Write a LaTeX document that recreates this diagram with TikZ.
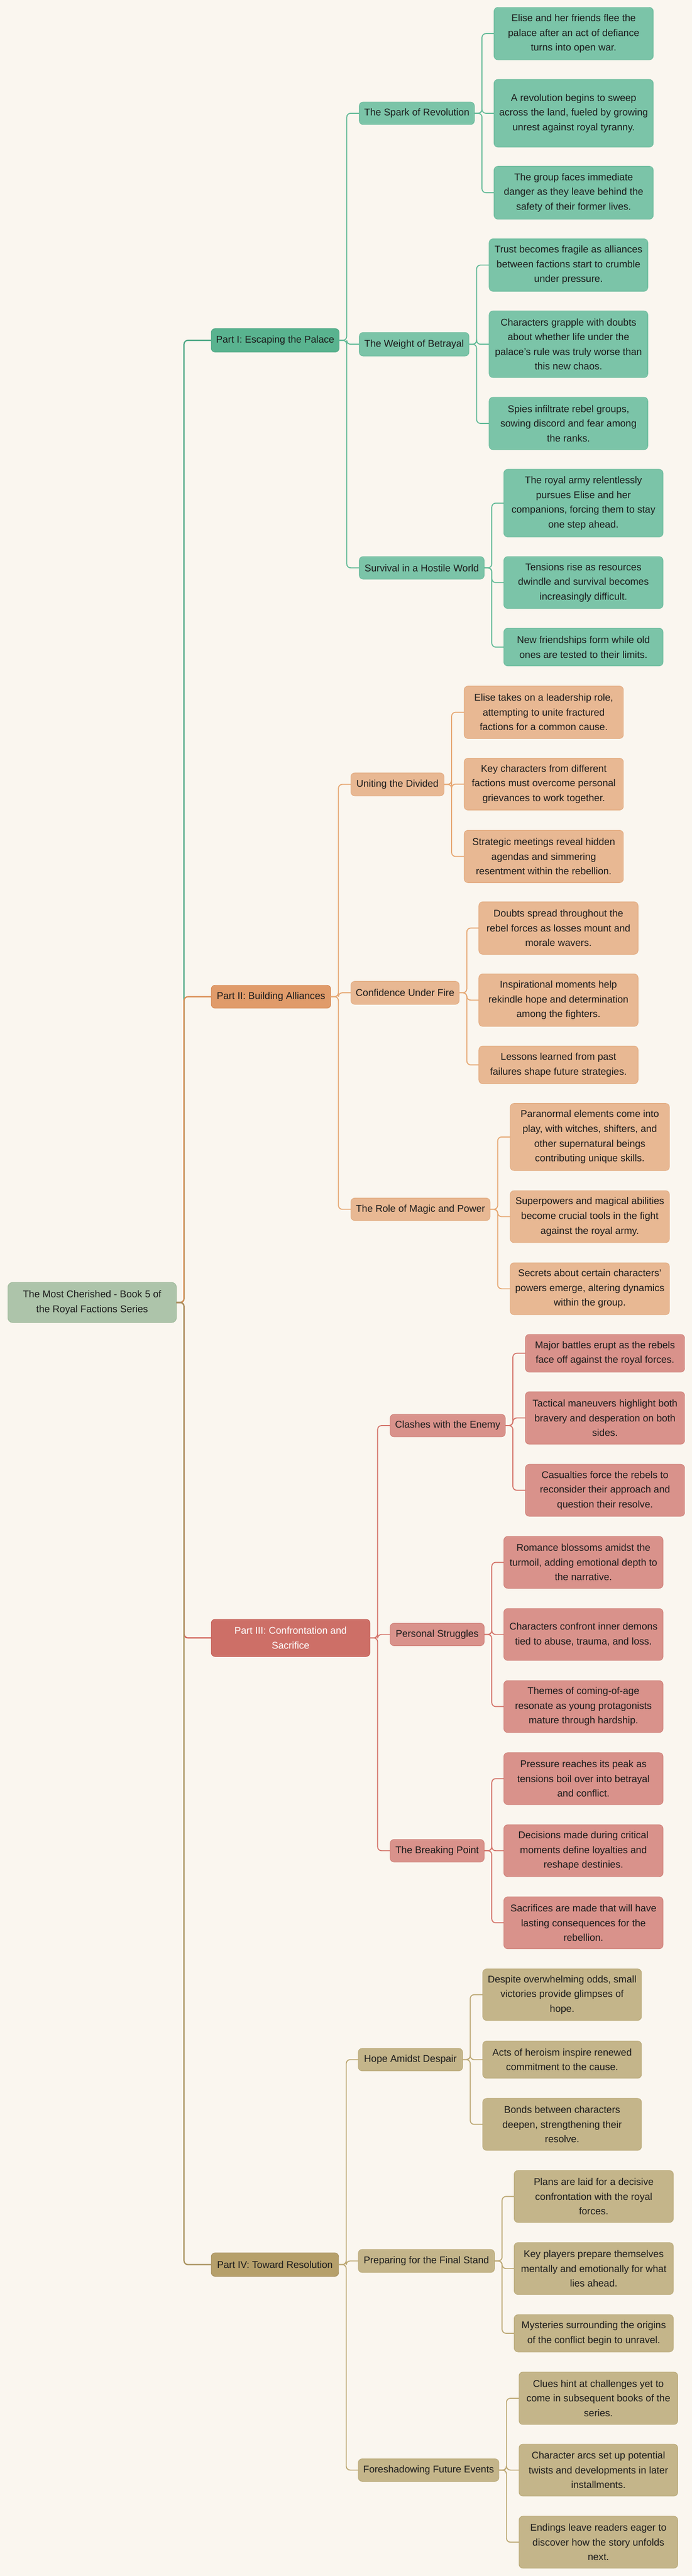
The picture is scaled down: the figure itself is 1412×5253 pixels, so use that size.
\documentclass[tikz,border=0pt]{standalone}
\usepackage{fontspec}
\setmainfont{Liberation Sans}
\usetikzlibrary{calc}
\definecolor{bg}{HTML}{FAF6EF}
\definecolor{txt}{HTML}{1C1C1C}
\definecolor{rootF}{HTML}{ADC4AA}\definecolor{rootD}{HTML}{9CB898}
\definecolor{gL}{HTML}{7BC4A8}\definecolor{gLd}{HTML}{6CBB9C}\definecolor{gP}{HTML}{59B38F}\definecolor{gPd}{HTML}{4FA583}\definecolor{gLine}{HTML}{62BA97}\definecolor{gTr}{HTML}{4FA886}
\definecolor{oL}{HTML}{E8B893}\definecolor{oLd}{HTML}{E2AA7E}\definecolor{oP}{HTML}{E09B6A}\definecolor{oPd}{HTML}{D68A54}\definecolor{oLine}{HTML}{E6A874}\definecolor{oTr}{HTML}{D98B50}
\definecolor{rL}{HTML}{D9928B}\definecolor{rLd}{HTML}{CF8179}\definecolor{rP}{HTML}{CD6F67}\definecolor{rPd}{HTML}{C45E55}\definecolor{rLine}{HTML}{D4766C}\definecolor{rTr}{HTML}{CF5A50}
\definecolor{tL}{HTML}{C4B58A}\definecolor{tLd}{HTML}{B9A977}\definecolor{tP}{HTML}{B6A06B}\definecolor{tPd}{HTML}{A89060}\definecolor{tLine}{HTML}{BCA874}\definecolor{tTr}{HTML}{A8925E}
\tikzset{
  box/.style={inner sep=0pt, outer sep=0pt, align=center, text=txt, line width=1pt, rounded corners=8pt, font=\fontsize{20}{30}\selectfont},
  rootbox/.style={box, fill=rootF, draw=rootD, rounded corners=10pt},
  gpart/.style={box, fill=gP, draw=gPd}, gsub/.style={box, fill=gL, draw=gLd}, gleaf/.style={box, fill=gL, draw=gLd},
  opart/.style={box, fill=oP, draw=oPd}, osub/.style={box, fill=oL, draw=oLd}, oleaf/.style={box, fill=oL, draw=oLd},
  rpart/.style={box, fill=rP, draw=rPd, text=white}, rsub/.style={box, fill=rL, draw=rLd}, rleaf/.style={box, fill=rL, draw=rLd},
  tpart/.style={box, fill=tP, draw=tPd}, tsub/.style={box, fill=tL, draw=tLd}, tleaf/.style={box, fill=tL, draw=tLd},
  edge/.style={line width=2pt, rounded corners=8pt},
  trunk/.style={line width=2.5pt, rounded corners=8pt}
}
\newcommand\nd[7]{\node[#1, minimum width={#5-#3}, minimum height={#6-#4}] (#2) at ({(#3+#5)/2},{(#4+#6)/2}) {#7};}
\newcommand\lnk[3]{\draw[#1] (#2.east) -- ++(15.5,0) |- (#3.west);}
\begin{document}
\begin{tikzpicture}[x=1pt,y=-1pt]
\fill[bg] (0,0) rectangle (1412,5253);
\useasboundingbox (0,0) rectangle (1412,5253);
% root
\nd{rootbox}{root}{16}{2615}{360}{2697}{The Most Cherished - Book 5 of\\the Royal Factions Series}
% Part I
\nd{gpart}{p1}{431}{670}{692}{718}{Part I: Escaping the Palace}
\nd{gsub}{s11}{733}{208}{968}{254}{The Spark of Revolution}
\nd{gleaf}{l111}{1008}{15}{1333}{122}{Elise and her friends flee the\\palace after an act of defiance\\turns into open war.}
\nd{gleaf}{l112}{1008}{162}{1333}{300}{A revolution begins to sweep\\across the land, fueled by growing\\unrest against royal tyranny.}
\nd{gleaf}{l113}{1008}{339}{1333}{447}{The group faces immediate\\danger as they leave behind the\\safety of their former lives.}
\nd{gsub}{s12}{733}{678}{957}{726}{The Weight of Betrayal}
\nd{gleaf}{l121}{998}{487}{1322}{594}{Trust becomes fragile as alliances\\between factions start to crumble\\under pressure.}
\nd{gleaf}{l122}{998}{634}{1322}{770}{Characters grapple with doubts\\about whether life under the\\palace's rule was truly worse than\\this new chaos.}
\nd{gleaf}{l123}{998}{810}{1322}{917}{Spies infiltrate rebel groups,\\sowing discord and fear among\\the ranks.}
\nd{gsub}{s13}{733}{1135}{988}{1181}{Survival in a Hostile World}
\nd{gleaf}{l131}{1028}{957}{1353}{1095}{The royal army relentlessly\\pursues Elise and her\\companions, forcing them to stay\\one step ahead.}
\nd{gleaf}{l132}{1028}{1135}{1353}{1241}{Tensions rise as resources\\dwindle and survival becomes\\increasingly difficult.}
\nd{gleaf}{l133}{1028}{1281}{1353}{1358}{New friendships form while old\\ones are tested to their limits.}
% Part II
\nd{opart}{p2}{431}{2009}{675}{2056}{Part II: Building Alliances}
\nd{osub}{s21}{716}{1576}{906}{1623}{Uniting the Divided}
\nd{oleaf}{l211}{947}{1399}{1272}{1506}{Elise takes on a leadership role,\\attempting to unite fractured\\factions for a common cause.}
\nd{oleaf}{l212}{947}{1546}{1272}{1652}{Key characters from different\\factions must overcome personal\\grievances to work together.}
\nd{oleaf}{l213}{947}{1693}{1272}{1800}{Strategic meetings reveal hidden\\agendas and simmering\\resentment within the rebellion.}
\nd{osub}{s22}{716}{2001}{937}{2048}{Confidence Under Fire}
\nd{oleaf}{l221}{977}{1839}{1302}{1946}{Doubts spread throughout the\\rebel forces as losses mount and\\morale wavers.}
\nd{oleaf}{l222}{977}{1986}{1302}{2093}{Inspirational moments help\\rekindle hope and determination\\among the fighters.}
\nd{oleaf}{l223}{977}{2133}{1302}{2210}{Lessons learned from past\\failures shape future strategies.}
\nd{osub}{s23}{716}{2443}{1000}{2489}{The Role of Magic and Power}
\nd{oleaf}{l231}{1041}{2250}{1366}{2387}{Paranormal elements come into\\play, with witches, shifters, and\\other supernatural beings\\contributing unique skills.}
\nd{oleaf}{l232}{1041}{2428}{1366}{2534}{Superpowers and magical abilities\\become crucial tools in the fight\\against the royal army.}
\nd{oleaf}{l233}{1041}{2575}{1366}{2681}{Secrets about certain characters'\\powers emerge, altering dynamics\\within the group.}
% Part III
\nd{rpart}{p3}{431}{3302}{755}{3378}{Part III: Confrontation and\\Sacrifice}
\nd{rsub}{s31}{796}{2884}{1031}{2930}{Clashes with the Enemy}
\nd{rleaf}{l311}{1072}{2721}{1397}{2798}{Major battles erupt as the rebels\\face off against the royal forces.}
\nd{rleaf}{l312}{1072}{2838}{1397}{2945}{Tactical maneuvers highlight both\\bravery and desperation on both\\sides.}
\nd{rleaf}{l313}{1072}{2986}{1397}{3092}{Casualties force the rebels to\\reconsider their approach and\\question their resolve.}
\nd{rsub}{s32}{796}{3310}{988}{3356}{Personal Struggles}
\nd{rleaf}{l321}{1028}{3133}{1353}{3239}{Romance blossoms amidst the\\turmoil, adding emotional depth to\\the narrative.}
\nd{rleaf}{l322}{1028}{3280}{1353}{3386}{Characters confront inner demons\\tied to abuse, trauma, and loss.}
\nd{rleaf}{l323}{1028}{3427}{1353}{3533}{Themes of coming-of-age\\resonate as young protagonists\\mature through hardship.}
\nd{rsub}{s33}{796}{3751}{988}{3797}{The Breaking Point}
\nd{rleaf}{l331}{1028}{3574}{1353}{3680}{Pressure reaches its peak as\\tensions boil over into betrayal\\and conflict.}
\nd{rleaf}{l332}{1028}{3721}{1353}{3827}{Decisions made during critical\\moments define loyalties and\\reshape destinies.}
\nd{rleaf}{l333}{1028}{3868}{1353}{3974}{Sacrifices are made that will have\\lasting consequences for the\\rebellion.}
% Part IV
\nd{tpart}{p4}{431}{4594}{691}{4642}{Part IV: Toward Resolution}
\nd{tsub}{s41}{731}{4177}{944}{4223}{Hope Amidst Despair}
\nd{tleaf}{l411}{985}{4015}{1309}{4120}{Despite overwhelming odds, small\\victories provide glimpses of\\hope.}
\nd{tleaf}{l412}{985}{4162}{1309}{4238}{Acts of heroism inspire renewed\\commitment to the cause.}
\nd{tleaf}{l413}{985}{4279}{1309}{4385}{Bonds between characters\\deepen, strengthening their\\resolve.}
\nd{tsub}{s42}{731}{4587}{1009}{4634}{Preparing for the Final Stand}
\nd{tleaf}{l421}{1049}{4426}{1374}{4532}{Plans are laid for a decisive\\confrontation with the royal\\forces.}
\nd{tleaf}{l422}{1049}{4573}{1374}{4679}{Key players prepare themselves\\mentally and emotionally for what\\lies ahead.}
\nd{tleaf}{l423}{1049}{4720}{1374}{4796}{Mysteries surrounding the origins\\of the conflict begin to unravel.}
\nd{tsub}{s43}{731}{5014}{1018}{5060}{Foreshadowing Future Events}
\nd{tleaf}{l431}{1059}{4837}{1383}{4944}{Clues hint at challenges yet to\\come in subsequent books of the\\series.}
\nd{tleaf}{l432}{1059}{4984}{1383}{5090}{Character arcs set up potential\\twists and developments in later\\installments.}
\nd{tleaf}{l433}{1059}{5131}{1383}{5237}{Endings leave readers eager to\\discover how the story unfolds\\next.}
% connectors
\begin{scope}[on background layer/.style={}]
\lnk{trunk,gTr}{root}{p1}
\lnk{trunk,oTr}{root}{p2}
\lnk{trunk,rTr}{root}{p3}
\lnk{trunk,tTr}{root}{p4}
\foreach \s in {s11,s12,s13} {\lnk{edge,gLine}{p1}{\s}}
\foreach \l in {l111,l112,l113} {\lnk{edge,gLine}{s11}{\l}}
\foreach \l in {l121,l122,l123} {\lnk{edge,gLine}{s12}{\l}}
\foreach \l in {l131,l132,l133} {\lnk{edge,gLine}{s13}{\l}}
\foreach \s in {s21,s22,s23} {\lnk{edge,oLine}{p2}{\s}}
\foreach \l in {l211,l212,l213} {\lnk{edge,oLine}{s21}{\l}}
\foreach \l in {l221,l222,l223} {\lnk{edge,oLine}{s22}{\l}}
\foreach \l in {l231,l232,l233} {\lnk{edge,oLine}{s23}{\l}}
\foreach \s in {s31,s32,s33} {\lnk{edge,rLine}{p3}{\s}}
\foreach \l in {l311,l312,l313} {\lnk{edge,rLine}{s31}{\l}}
\foreach \l in {l321,l322,l323} {\lnk{edge,rLine}{s32}{\l}}
\foreach \l in {l331,l332,l333} {\lnk{edge,rLine}{s33}{\l}}
\foreach \s in {s41,s42,s43} {\lnk{edge,tLine}{p4}{\s}}
\foreach \l in {l411,l412,l413} {\lnk{edge,tLine}{s41}{\l}}
\foreach \l in {l421,l422,l423} {\lnk{edge,tLine}{s42}{\l}}
\foreach \l in {l431,l432,l433} {\lnk{edge,tLine}{s43}{\l}}
\end{scope}
\end{tikzpicture}
\end{document}
